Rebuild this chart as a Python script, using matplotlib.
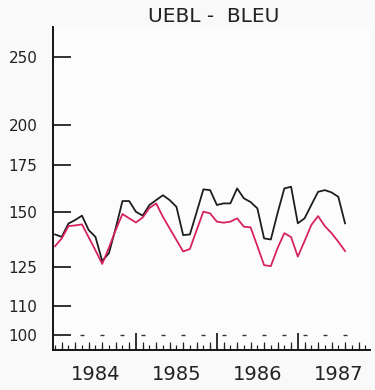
import matplotlib
matplotlib.use("Agg")
import matplotlib.pyplot as plt
import numpy as np

# Monthly index: 0 = Jan 1984 ... 43 = Aug 1987
months = np.arange(44)
black_series = [139.3, 138.2, 144.4, 146.1, 148.2, 141.3, 138.2, 127.6, 131.0, 142.2,
                155.5, 155.5, 150.1, 148.2, 153.5, 156.0, 158.5, 156.0, 152.6, 139.0,
                139.3, 149.9, 161.6, 161.2, 153.5, 154.3, 154.3, 162.1, 156.9, 155.0,
                151.8, 137.5, 137.0, 149.5, 162.1, 163.0, 144.5, 146.9, 153.5, 160.3,
                161.2, 160.0, 157.7, 144.5]
pink_series = [134.0, 137.5, 143.2, 143.5, 144.0, 138.0, 132.2, 126.4, 133.4, 141.3,
               149.0, 146.9, 144.9, 147.3, 152.0, 154.3, 147.6, 142.1, 136.8, 131.7,
               132.8, 141.3, 150.2, 149.3, 145.3, 144.8, 145.3, 146.9, 142.9, 142.6,
               134.1, 125.9, 125.5, 133.2, 139.9, 138.1, 129.5, 136.3, 143.7, 148.0,
               143.2, 139.9, 136.0, 131.9]
year_labels = ["1984", "1985", "1986", "1987"]
year_bounds = [12, 24, 36]
y_ticks = [100, 110, 125, 150, 175, 200, 250]

PX = 0.72  # points per pixel at dpi 100

fig = plt.figure(figsize=(3.75, 3.9), dpi=100, facecolor="#f9f9f9")
ax = fig.add_axes([53.3/375, 1-350/390, (370-53.3)/375, (350-27)/390])
ax.set_facecolor("#fcfcfc")

ax.plot(months, black_series, color="#1c1c1c", lw=1.5*PX*1.0+0.2)
ax.plot(months, pink_series, color="#d62060", lw=1.5*PX*1.0+0.2)

ax.set_yscale("log")
ax.set_ylim(95.2, 275.9)
ax.set_xlim(-0.25, 46.7)

ax.set_yticks(y_ticks)
ax.set_yticklabels([str(v) for v in y_ticks], fontsize=11)
ax.yaxis.set_minor_locator(matplotlib.ticker.NullLocator())
ax.tick_params(axis="y", which="major", direction="in", length=18*PX, width=1.4*PX*1.2,
               pad=16*PX, color="#111111", labelcolor="#222222")

# x ticks: year separators (major) and months (minor)
ax.set_xticks(year_bounds)
ax.set_xticklabels(["", "", ""])
ax.set_xticks(np.arange(0, 47), minor=True)
ax.tick_params(axis="x", which="major", direction="in", length=17*PX, width=1.4*PX*1.2,
               color="#111111")
ax.tick_params(axis="x", which="minor", direction="in", length=5*PX, width=1.0*PX*1.2,
               color="#222222")
sec = ax.secondary_xaxis(0)
sec.set_xticks(np.arange(1, 47, 2))
sec.set_xticklabels([])
sec.tick_params(direction="in", length=8*PX, width=1.0*PX*1.2, color="#222222")
sec.spines["bottom"].set_visible(False)

# dashes along the 100 level
dash_x = np.arange(4, 46, 3)
ax.plot(dash_x, [100]*len(dash_x), ls="none", marker="_", ms=3, mew=1.0, color="#333333")

for i, lab in enumerate(year_labels):
    ax.text(6 + 12*i, -15/323, lab, transform=ax.get_xaxis_transform(),
            ha="center", va="top", fontsize=14, color="#222222")

for s in ["top", "right"]:
    ax.spines[s].set_visible(False)
for s in ["left", "bottom"]:
    ax.spines[s].set_linewidth(1.6*PX*1.2)
    ax.spines[s].set_color("#111111")

fig.text(214/375, 1-16.5/390, "UEBL -  BLEU", ha="center", va="center",
         fontsize=14.5, color="#222222")

fig.savefig("out.png", dpi=100, facecolor=fig.get_facecolor())
